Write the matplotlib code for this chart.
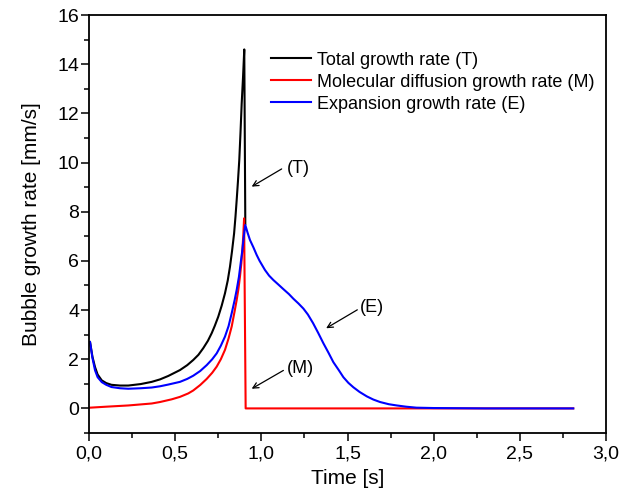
import matplotlib
matplotlib.use("Agg")
import matplotlib.pyplot as plt
from matplotlib.ticker import MultipleLocator, FuncFormatter

plt.rcParams['font.family'] = ['Liberation Sans', 'DejaVu Sans']

# Valores

t_total = [0.006, 0.02, 0.035, 0.05, 0.074, 0.1, 0.13, 0.18, 0.228, 0.3,
           0.364, 0.412, 0.46, 0.528, 0.57, 0.605, 0.635, 0.663, 0.69, 0.712,
           0.73, 0.75, 0.77, 0.789, 0.805, 0.818, 0.83, 0.842, 0.85, 0.857,
           0.864, 0.872, 0.879, 0.886, 0.894, 0.901, 0.907]
total = [2.7, 2.1, 1.68, 1.38, 1.14, 1.03, 0.96, 0.93, 0.93, 0.99,
         1.08, 1.18, 1.32, 1.56, 1.76, 1.97, 2.18, 2.45, 2.75, 3.06,
         3.36, 3.73, 4.18, 4.68, 5.2, 5.76, 6.4, 7.12, 7.8, 8.48,
         9.2, 10.1, 11.2, 12.4, 13.5, 14.6, 7.5]

t_mol = [0.006, 0.1, 0.228, 0.364, 0.412, 0.48, 0.528, 0.576, 0.605, 0.645,
         0.683, 0.715, 0.741, 0.765, 0.789, 0.81, 0.828, 0.845, 0.857, 0.867,
         0.876, 0.884, 0.89, 0.895, 0.9, 0.909, 1.5, 2.81]
molecular = [0.03, 0.07, 0.12, 0.2, 0.26, 0.37, 0.47, 0.61, 0.73, 0.95,
             1.2, 1.45, 1.7, 2.0, 2.38, 2.85, 3.33, 3.95, 4.41, 4.85,
             5.36, 5.9, 6.44, 7.0, 7.73, 0.0, 0.0, 0.0]

t_exp = [0.006, 0.02, 0.035, 0.05, 0.074, 0.1, 0.13, 0.18, 0.228, 0.3,
         0.364, 0.412, 0.46, 0.528, 0.57, 0.605, 0.645, 0.683, 0.715, 0.741,
         0.765, 0.789, 0.81, 0.828, 0.845, 0.857, 0.87, 0.88, 0.89, 0.896,
         0.902, 0.907, 0.92, 0.934, 0.954, 0.973, 0.99, 1.021, 1.045, 1.07,
         1.1, 1.128, 1.16, 1.186, 1.215, 1.244, 1.27, 1.30, 1.33, 1.36,
         1.39, 1.418, 1.45, 1.476, 1.505, 1.534, 1.57, 1.612, 1.65, 1.689,
         1.74, 1.786, 1.84, 1.90, 2.0, 2.1, 2.3, 2.5, 2.81]
expansion = [2.7, 2.05, 1.55, 1.27, 1.07, 0.96, 0.87, 0.82, 0.8, 0.82,
             0.85, 0.9, 0.97, 1.08, 1.2, 1.33, 1.52, 1.76, 2.0, 2.24,
             2.55, 2.92, 3.35, 3.87, 4.4, 4.82, 5.35, 5.9, 6.45, 6.85,
             7.2, 7.46, 7.15, 6.85, 6.55, 6.24, 6.0, 5.63, 5.4, 5.22,
             5.03, 4.85, 4.65, 4.46, 4.27, 4.06, 3.82, 3.47, 3.07, 2.65,
             2.26, 1.88, 1.55, 1.27, 1.04, 0.86, 0.67, 0.49, 0.36, 0.26,
             0.17, 0.12, 0.07, 0.03, 0.015, 0.01, 0.0, 0.0, 0.0]

labels = ["Total growth rate (T)",
          "Molecular diffusion growth rate (M)",
          "Expansion growth rate (E)"]


# Figura

fig = plt.figure(figsize=(6.29, 4.97), dpi=100)
ax = fig.add_axes([89/629, 1 - 433/497, 517/629, 418/497])

ax.plot(t_total, total, color='black', lw=1.5, label=labels[0])
ax.plot(t_mol, molecular, color='red', lw=1.5, label=labels[1])
ax.plot(t_exp, expansion, color='blue', lw=1.5, label=labels[2])

ax.set_xlim(0, 3.0)
ax.set_ylim(-1, 16)
ax.xaxis.set_major_locator(MultipleLocator(0.5))
ax.xaxis.set_minor_locator(MultipleLocator(0.25))
ax.yaxis.set_major_locator(MultipleLocator(2))
ax.yaxis.set_minor_locator(MultipleLocator(1))
ax.xaxis.set_major_formatter(FuncFormatter(lambda v, p: f"{v:.1f}".replace('.', ',')))
ax.yaxis.set_major_formatter(FuncFormatter(lambda v, p: f"{v:.0f}"))

ax.tick_params(which='both', direction='out', top=False, right=False, width=1.1)
ax.tick_params(which='major', length=6, labelsize=14)
ax.tick_params(which='minor', length=3.5)
ax.tick_params(axis='y', which='major', pad=1)
ax.tick_params(axis='x', which='major', pad=3)
for s in ax.spines.values():
    s.set_linewidth(1.3)

ax.set_xlabel("Time [s]", fontsize=15, labelpad=5)
ax.set_ylabel("Bubble growth rate [mm/s]", fontsize=15, labelpad=12)

ax.legend(loc='upper left', bbox_to_anchor=(0.352, 0.912), frameon=False,
          fontsize=13, handlelength=2.2, handletextpad=0.35, labelspacing=0.27,
          borderpad=0, borderaxespad=0)

# Flechas de las curvas
arrow = dict(arrowstyle='->', color='black', lw=0.9, shrinkA=0, shrinkB=0)
ax.annotate("", xy=(0.944, 9.02), xytext=(1.118, 9.74), arrowprops=arrow)
ax.text(1.147, 9.75, "(T)", fontsize=13, va='center', ha='left')
ax.annotate("", xy=(0.944, 0.8), xytext=(1.128, 1.545), arrowprops=arrow)
ax.text(1.147, 1.61, "(M)", fontsize=13, va='center', ha='left')
ax.annotate("", xy=(1.376, 3.26), xytext=(1.557, 4.01), arrowprops=arrow)
ax.text(1.573, 4.09, "(E)", fontsize=13, va='center', ha='left')

fig.savefig("out.png", dpi=100)
